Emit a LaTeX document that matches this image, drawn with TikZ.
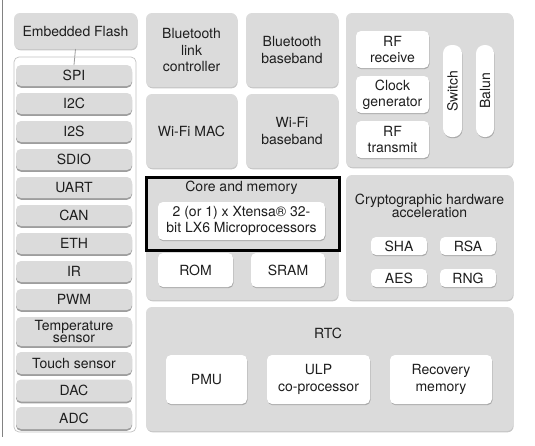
\documentclass[tikz,border=0pt]{standalone}
\usepackage{fontspec}
\setmainfont{TeX Gyre Heros}
\usetikzlibrary{shadows}
\definecolor{panel}{RGB}{219,219,219}
\definecolor{txt}{RGB}{30,30,30}
\definecolor{edge}{RGB}{195,195,195}
\definecolor{pageline}{RGB}{130,130,130}
\tikzset{
  base/.style={inner sep=0pt, outer sep=0pt, align=center, text=txt,
    font=\fontsize{14}{16.3}\selectfont},
  panelbox/.style={base, fill=panel, rounded corners=6pt,
    drop shadow={shadow xshift=0.6pt, shadow yshift=-1.3pt, fill=black, opacity=0.22}},
  periph/.style={base, fill=panel, rounded corners=5pt, minimum width=116pt,
    drop shadow={shadow xshift=0pt, shadow yshift=-1.8pt, fill=black, opacity=0.38}},
  whitebox/.style={base, fill=white, rounded corners=5pt,
    drop shadow={shadow xshift=0.5pt, shadow yshift=-1.2pt, fill=black, opacity=0.22}},
  lbl/.style={base},
  tightlbl/.style={base, font=\fontsize{14}{13.4}\selectfont},
}
\begin{document}
\begin{tikzpicture}[x=1pt, y=-1pt]
\useasboundingbox (0,0) rectangle (535,445);
\fill[white] (0,0) rectangle (535,445);
% page edge line
\coordinate (lt) at (2.5,0);
\coordinate (lb) at (2.5,437);
\draw[pageline, line width=0.9pt] (lt) -- (lb);

% left column
\node[panelbox, minimum width=123pt, minimum height=36pt] (flash) at (75.5,31) {Embedded Flash};
\node[base, fill=white, draw=edge, line width=0.7pt, rounded corners=5pt,
      minimum width=122pt, minimum height=375pt] (pcont) at (75,244.5) {};
\node[periph, minimum height=21pt] (spi) at (74,75.5) {SPI};
\node[periph, minimum height=21pt] (i2c) at (74,103.5) {I2C};
\node[periph, minimum height=21pt] (i2s) at (74,131.5) {I2S};
\node[periph, minimum height=21pt] (sdio) at (74,159.5) {SDIO};
\node[periph, minimum height=21pt] (uart) at (74,187.5) {UART};
\node[periph, minimum height=21pt] (can) at (74,215.5) {CAN};
\node[periph, minimum height=21pt] (eth) at (74,243.5) {ETH};
\node[periph, minimum height=21pt] (ir) at (74,271.5) {IR};
\node[periph, minimum height=21pt] (pwm) at (74,299.5) {PWM};
\node[periph, minimum height=29pt, font=\fontsize{14}{12.6}\selectfont] (temp) at (74,331.5) {Temperature\\sensor};
\node[periph, minimum height=22pt] (touch) at (74,363) {Touch sensor};
\node[periph, minimum height=22pt] (dac) at (74,390.5) {DAC};
\node[periph, minimum height=22pt] (adc) at (74,418) {ADC};
\draw[edge!80!black, line width=0.8pt] (flash.south) -- (spi.north);

% middle column
\node[panelbox, minimum width=91pt, minimum height=74pt] (btlc) at (191.5,50) {Bluetooth\\link\\controller};
\node[panelbox, minimum width=92pt, minimum height=74pt] (btbb) at (292,50) {Bluetooth\\baseband};
\node[panelbox, minimum width=91pt, minimum height=74pt] (wmac) at (191.5,131) {Wi-Fi MAC};
\node[panelbox, minimum width=92pt, minimum height=74pt] (wbb) at (292,131) {Wi-Fi\\baseband};

\node[panelbox, minimum width=192pt, minimum height=123pt] (core) at (242,238.5) {};
\node[base, draw=black, line width=3pt, minimum width=193pt, minimum height=73pt] (corebox) at (242.5,213.5) {};
\node[lbl] (coret) at (241.5,188) {Core and memory};
\node[whitebox, minimum width=167pt, minimum height=38pt] (cpu) at (241.5,221) {2 (or 1) x Xtensa® 32-\\bit LX6 Microprocessors};
\node[whitebox, minimum width=75pt, minimum height=34pt] (rom) at (195.5,270) {ROM};
\node[whitebox, minimum width=74pt, minimum height=34pt] (sram) at (288,270) {SRAM};

% right column
\node[panelbox, minimum width=167pt, minimum height=154pt] (rf) at (429.5,90) {};
\node[whitebox, minimum width=73pt, minimum height=37pt] (rfrx) at (392.5,49.5) {RF\\receive};
\node[whitebox, minimum width=73pt, minimum height=37pt] (clk) at (392.5,94.5) {Clock\\generator};
\node[whitebox, minimum width=73pt, minimum height=37pt] (rftx) at (392.5,139.5) {RF\\transmit};
\node[whitebox, minimum width=19pt, minimum height=92pt, rounded corners=8.5pt] (sw) at (452.5,91) {};
\node[lbl, rotate=90] (swt) at (sw.center) {Switch};
\node[whitebox, minimum width=18pt, minimum height=92pt, rounded corners=8.5pt] (balun) at (485,91) {};
\node[lbl, rotate=90] (balunt) at (balun.center) {Balun};

\node[panelbox, minimum width=167pt, minimum height=125pt] (crypto) at (429.5,237.5) {};
\node[tightlbl] (cryptot) at (429.5,206) {Cryptographic hardware\\acceleration};
\node[whitebox, minimum width=56pt, minimum height=18pt] (sha) at (399,246) {SHA};
\node[whitebox, minimum width=56pt, minimum height=18pt] (rsa) at (468,246) {RSA};
\node[whitebox, minimum width=56pt, minimum height=18pt] (aes) at (399,278) {AES};
\node[whitebox, minimum width=56pt, minimum height=18pt] (rng) at (468,278) {RNG};

% RTC
\node[panelbox, minimum width=367pt, minimum height=124pt] (rtc) at (329.5,369) {};
\node[lbl] (rtct) at (328,333) {RTC};
\node[whitebox, minimum width=81pt, minimum height=49pt] (pmu) at (206.5,379.5) {PMU};
\node[whitebox, minimum width=103pt, minimum height=49pt] (ulp) at (318.5,379.5) {ULP\\co-processor};
\node[whitebox, minimum width=102pt, minimum height=49pt] (recov) at (441,379.5) {Recovery\\memory};
\end{tikzpicture}
\end{document}
